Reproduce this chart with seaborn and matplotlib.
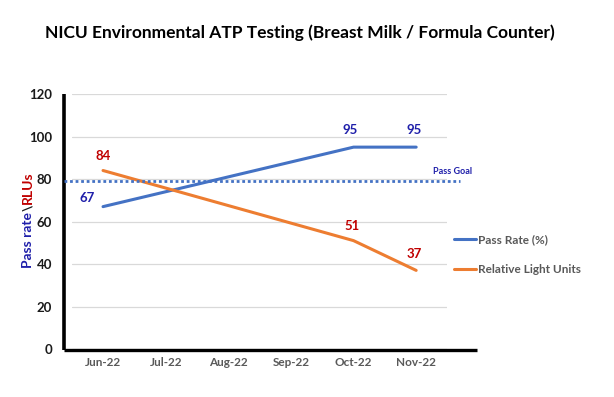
import numpy as np
import pandas as pd
import seaborn as sns
import matplotlib.pyplot as plt

# Chart data
months = ["Jun-22", "Jul-22", "Aug-22", "Sep-22", "Oct-22", "Nov-22"]
pass_rate = [67, np.nan, np.nan, np.nan, 95, 95]
rlu = [84, np.nan, np.nan, np.nan, 51, 37]
pass_goal = 79
series_names = ["Pass Rate (%)", "Relative Light Units"]

sns.set_theme(style="white")
plt.rcParams['font.family'] = ['Lato', 'DejaVu Sans']

df = pd.DataFrame({
    "pos": list(range(len(months))) * 2,
    "value": pass_rate + rlu,
    "series": [series_names[0]] * len(months) + [series_names[1]] * len(months),
}).dropna()

fig = plt.figure(figsize=(6.14, 3.97), dpi=100)
ax = fig.add_axes([0.1168, 0.1209, 0.612, 0.6423])

palette = {series_names[0]: "#4472C4", series_names[1]: "#ED7D31"}
sns.lineplot(data=df, x="pos", y="value", hue="series", palette=palette,
             linewidth=2.2, ax=ax, legend=False)

ax.set_xlim(-0.5, len(months) - 0.5)
ax.set_ylim(0, 120)
ax.set_yticks(range(0, 121, 20))
ax.set_xticks(range(len(months)))
ax.set_xticklabels(months, color="#595959", fontweight="bold", fontsize=8.5)
for t in ax.get_yticklabels():
    t.set_fontweight("bold")
    t.set_fontsize(9.5)
    t.set_color("#1a1a1a")
ax.tick_params(axis="x", pad=6, length=0)
ax.tick_params(axis="y", pad=14, length=0)
ax.set_xlabel("")
ax.set_ylabel("")
ax.grid(axis="y", color="#d9d9d9", linewidth=0.9)
for s in ax.spines.values():
    s.set_visible(False)

# hand-drawn style black axes
ax.plot([-0.62, -0.62], [-0.4, 120], color="black", linewidth=2.6, clip_on=False,
        solid_capstyle="butt")
ax.plot([-0.62, 5.97], [-0.4, -0.4], color="black", linewidth=2.4, clip_on=False,
        solid_capstyle="butt")

# pass goal
ax.plot([-0.62, 5.70], [pass_goal, pass_goal], color="#4472C4", linewidth=2,
        linestyle=(0, (1, 1)), clip_on=False)
ax.text(5.575, pass_goal + 4.3, "Pass Goal", color="#1F1FAA", fontsize=6.5,
        fontweight="bold", ha="center", va="center", clip_on=False)

# data labels
blue_lab = "#1F1FAA"
red_lab = "#C00000"
pr_off = [(-0.26, 4.0), None, None, None, (-0.06, 8.0), (-0.03, 8.0)]
rl_off = [(0.0, 6.8), None, None, None, (-0.03, 6.9), (-0.03, 7.7)]
for i, (v, o) in enumerate(zip(pass_rate, pr_off)):
    if o is not None:
        ax.text(i + o[0], v + o[1], f"{v:.0f}", color=blue_lab, fontsize=9.5,
                fontweight="bold", ha="center", va="center")
for i, (v, o) in enumerate(zip(rlu, rl_off)):
    if o is not None:
        ax.text(i + o[0], v + o[1], f"{v:.0f}", color=red_lab, fontsize=9.5,
                fontweight="bold", ha="center", va="center")

# legend
handles = [plt.Line2D([], [], color=palette[n], linewidth=2.2) for n in series_names]
ax.legend(handles, series_names, loc="center left", bbox_to_anchor=(0.722, 0.358),
          bbox_transform=fig.transFigure, frameon=False, handlelength=1.9,
          handletextpad=0.15, labelspacing=1.6, labelcolor="#595959",
          prop={"weight": "bold", "size": 8.5})

# multi-coloured y label, stacked bottom to top
renderer = fig.canvas.get_renderer()
y_px = 397 - 268
for part, col in [("Pass rate", "#1F1FAA"), ("\\", "#1a1a1a"), ("RLUs", "#C00000")]:
    t = fig.text(28 / 614, y_px / 397, part, color=col, rotation=90, fontsize=10,
                 fontweight="bold", ha="center", va="bottom")
    bb = t.get_window_extent(renderer)
    y_px = bb.y1 + 1

fig.text(300 / 614, 1 - 33 / 397, "NICU Environmental ATP Testing (Breast Milk / Formula Counter)",
         ha="center", va="center", fontsize=12.5, fontweight="bold", color="black")

fig.savefig("out.png", dpi=100, facecolor="white")
